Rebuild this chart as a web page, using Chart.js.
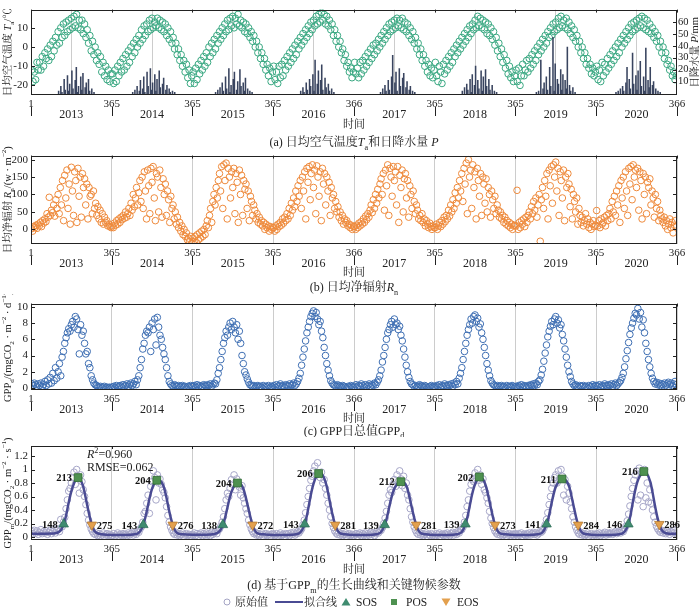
<!DOCTYPE html>
<html><head><meta charset="utf-8">
<script src="https://cdn.jsdelivr.net/npm/chart.js@4.4.1/dist/chart.umd.min.js"></script>
<style>
html,body{margin:0;padding:0;background:#fff;}
body{width:700px;height:608px;position:relative;overflow:hidden;}
canvas{position:absolute;left:0;}
</style></head>
<body>
<canvas id="ca" width="700" height="152" style="top:0px"></canvas>
<canvas id="cb" width="700" height="152" style="top:146px"></canvas>
<canvas id="cc" width="700" height="143" style="top:294px"></canvas>
<canvas id="cd" width="700" height="172" style="top:436px"></canvas>
<script>
// ---------------- DATA ----------------
const YEARS=['2013','2014','2015','2016','2017','2018','2019','2020'];
const YEAR_DAYS=[365,365,365,366,365,365,365,366];
const BOUND_LABELS=['1','365','365','365','366','365','365','365','366'];
const T_TICKS=[-20,-10,0,10];
const P_TICKS=[10,20,30,40,50,60];
const RN_TICKS=[0,50,100,150,200];
const GPPD_TICKS=[0,2,4,6,8,10];
const GPPM_TICKS=[0,0.2,0.4,0.6,0.8,1,1.2];

// daily mean air temperature (values spread evenly through each year)
const temp2013=[-12,-18,-13,-17,-8,-12,-8,-12,-5,-10,-3,-6,-1,-7,1,-5,3,-2,5,1,8,2,10,5,12,6,13,8,14,9,15,10,16,11,17,10,14,9,14,7,12,5,9,2,6,-2,3,-4,0,-7,-3,-9,-5,-13,-8,-15,-10,-17,-12,-18,-14];
const temp2014=[-14,-19,-12,-18,-10,-15,-8,-13,-6,-12,-4,-10,-2,-8,0,-5,2,-3,4,0,6,2,9,4,11,6,12,8,14,9,15,10,13,11,15,10,14,9,13,8,12,6,10,4,8,2,5,-1,2,-4,-1,-7,-4,-10,-7,-13,-9,-16,-12,-19,-15];
const temp2015=[-13,-19,-11,-17,-9,-14,-7,-12,-5,-10,-3,-8,0,-5,2,-3,4,-1,6,2,8,4,10,6,12,8,14,9,15,11,16,10,15,12,17,11,14,10,13,8,12,7,10,5,8,3,6,0,3,-3,0,-6,-3,-9,-6,-12,-9,-15,-11,-18,-13];
const temp2016=[-10,-17,-13,-19,-10,-16,-9,-15,-7,-12,-5,-10,-3,-8,-1,-6,1,-4,3,-1,5,1,7,3,9,5,11,7,13,9,14,11,16,12,17,13,18,14,17,12,16,11,14,9,12,6,9,3,6,0,3,-3,-1,-7,-4,-10,-8,-13,-11,-16,-13];
const temp2017=[-8,-14,-11,-16,-8,-14,-7,-12,-5,-10,-3,-8,-1,-6,1,-4,2,-2,4,0,6,2,8,4,10,6,12,8,13,9,14,10,15,11,14,10,15,9,13,8,12,6,10,4,8,2,5,-1,2,-4,-1,-7,-4,-10,-7,-13,-9,-15,-11,-16,-12];
const temp2018=[-8,-15,-18,-10,-13,-19,-9,-14,-7,-12,-5,-10,-3,-8,-1,-5,1,-3,3,-1,5,1,7,3,9,5,11,7,12,9,14,10,16,11,15,10,14,9,13,7,12,6,10,4,8,1,5,-2,2,-5,-1,-8,-4,-11,-7,-14,-10,-16,-13,-18,-15];
const temp2019=[-12,-18,-11,-20,-15,-9,-15,-12,-7,-13,-6,-11,-4,-9,-2,-7,0,-4,2,-2,4,0,6,2,8,5,10,6,12,8,13,9,15,10,16,11,14,10,15,9,13,7,11,5,9,3,6,0,3,-3,0,-6,-3,-9,-6,-11,-9,-14,-11,-15,-13];
const temp2020=[-10,-17,-12,-18,-8,-15,-9,-13,-6,-11,-4,-9,-2,-7,0,-5,2,-3,4,0,6,2,8,4,10,6,12,8,13,9,14,10,15,11,16,10,15,9,14,8,12,7,10,5,8,3,6,0,3,-3,0,-6,-3,-9,-7,-12,-10,-15,-13,-17,-15];

// daily precipitation (mm), from day P_FIRST_DAY every P_STEP days
const P_FIRST_DAY=90, P_STEP=5;
const prec2013=[0,0,0,0,0,0,0,2,0,6,1,0,12,3,0,15,2,8,0,19,4,0,11,22,1,6,0,14,3,17,0,5,9,0,12,2,0,4,0,1,0,0,0,0,0,0,0];
const prec2014=[0,1,0,3,0,6,0,2,11,0,4,14,1,0,18,6,0,21,3,9,0,16,2,12,0,19,5,0,8,13,0,3,7,0,4,1,0,2,0,1,0,0,0,0,0,0,0];
const prec2015=[0,0,0,1,0,3,0,5,0,9,2,0,14,4,0,21,1,7,0,12,18,0,3,10,0,20,6,0,9,2,13,0,4,0,2,0,1,0,0,0,0,0,0,0,0,0,0];
const prec2016=[0,0,0,0,0,0,0,2,0,5,1,0,9,3,0,12,6,0,16,2,28,0,8,19,0,11,24,3,0,13,5,0,8,2,0,4,0,1,0,0,0,0,0,0,0,0,0];
const prec2017=[0,0,0,0,0,0,1,0,4,0,7,2,0,11,3,0,14,32,0,9,18,2,0,21,6,0,13,17,0,5,10,0,3,6,0,2,0,1,0,0,0,0,0,0,0,0,0];
const prec2018=[0,0,0,0,0,0,0,2,0,5,0,8,3,0,12,1,16,0,7,23,0,11,4,0,19,2,14,0,20,6,0,12,3,0,7,0,2,0,1,0,0,0,0,0,0,0,0];
const prec2019=[0,1,0,2,0,28,0,4,9,0,14,3,0,22,6,0,47,2,25,0,12,8,0,20,3,16,0,11,4,39,0,7,2,0,5,0,1,0,0,0,0,0,0,0,0,0,0];
const prec2020=[1,0,2,0,4,0,6,2,0,9,22,0,12,4,0,34,8,0,15,3,19,0,27,6,0,14,2,38,0,11,5,22,0,7,10,0,4,0,2,0,1,0,0,0,0,0,0];

// daily mean net radiation (W m-2)
const rn2013=[2,-5,8,5,12,3,15,10,20,8,25,18, 30,22,45,35,92,40,55,48,70,38,85,60, 100,45,120,70,140,25,155,90,170,60,130,15, 178,110,40,165,140,20,175,95,150,35,160,120, 145,70,130,30,120,95,100,45,110,60,75,40, 65,30,55,20,45,15,35,20,25,10,15,8,5];
const rn2014=[10,5,18,12,25,15,30,20,35,28,40,32, 50,35,45,60,40,75,55,100,65,90,120,70, 105,140,80,150,60,165,110,30,170,125,45,175, 135,180,90,25,160,150,50,170,120,35,145,100, 130,40,110,85,20,95,60,70,30,50,15,35, 5,20,-5,10,-15,0,-20,-10,-30,-25,-35,-20,-40];
const rn2015=[-25,-35,-20,-38,-15,-30,-10,-25,-5,-20,0,-15, 10,25,5,40,60,20,80,100,70,120,90,140, 160,110,180,60,185,140,190,30,175,150,90,165, 120,175,45,160,135,20,170,100,155,40,140,115, 130,60,110,25,95,80,40,70,55,30,45,20, 35,15,25,10,20,0,15,5,10,-5,8,0,5];
const rn2016=[5,-5,10,0,15,8,20,12,30,18,35,25, 45,30,60,40,75,55,90,65,110,80,125,95, 140,60,150,110,165,30,175,135,180,85,160,185, 120,170,45,182,150,95,165,25,175,130,160,70, 150,110,135,40,120,90,100,60,80,50,65,35, 50,25,40,15,30,20,25,10,15,5,12,0,8];
const rn2017=[8,0,12,5,18,10,22,15,30,20,38,28, 45,35,55,70,48,85,60,100,75,115,90,130, 145,100,160,55,170,125,185,40,175,150,95,180, 140,165,70,180,20,155,120,170,50,145,160,90, 140,35,125,100,60,110,80,45,70,55,30,40, 25,45,20,30,10,25,15,5,18,8,0,10,5];
const rn2018=[5,15,0,10,20,8,25,15,35,22,40,30, 55,38,70,50,85,60,105,75,120,90,140,110, 160,80,175,130,190,45,200,150,170,60,185,120, 165,30,175,140,95,160,40,150,130,75,145,50, 120,100,35,110,85,60,95,45,70,55,35,50, 30,40,20,35,15,25,10,20,5,15,0,10,12];
const rn2019=[10,112,0,20,5,25,15,30,8,35,20,40, 50,30,65,45,80,55,90,35,70,100,-34,85, 120,60,140,95,160,30,170,125,180,75,185,150, 193,110,175,40,165,140,90,170,25,150,120,160, 130,65,115,30,100,80,50,90,15,60,40,20, 35,10,25,45,15,30,5,20,0,15,25,8,12];
const rn2020=[54,10,25,5,30,15,20,35,10,40,25,45, 60,30,80,50,95,40,110,70,125,20,140,90, 150,60,165,110,40,175,130,180,85,185,150,170, 120,175,55,165,140,30,160,100,150,45,135,120, 145,70,110,90,35,100,60,80,25,55,40,30, 20,35,10,25,0,15,30,5,20,-10,12,25,8];

// daily total GPP (GPPd)
const gppd2013=[0.5,0.3,0.6,0.4,0.2,0.5,0.3,0.6,0.2,0.4, 0.8,0.3,1.0,0.5,1.3,0.6,1.8,0.9,2.5,1.2, 2.0,3.0,1.5,3.8,4.5,5.5,6.2,6.8,7.3,7.0, 7.8,8.2,7.5,8.8,8.5,7.2,4.2,7.8,6.5,7.0, 5.5,4.2,4.5,3.0,2.5,1.5,1.0,0.6,0.4,0.3, 0.2,0.1,0.2,0.0,0.1,0.2,0.0,0.1,0.0,0.1,0.0];
const gppd2014=[0.1,0.2,0.0,0.3,0.1,0.2,0.3,0.1,0.4,0.2, 0.3,0.5,0.2,0.4,0.6,0.3,0.5,0.8,0.4,1.0, 1.5,2.5,3.5,4.8,5.5,6.5,7.0,6.8,7.5,4.5, 8.0,7.2,8.5,5.3,8.7,7.5,6.5,6.0,5.0,4.2, 3.5,2.5,1.5,0.8,0.5,0.3,0.2,0.4,0.3,0.2, 0.3,0.1,0.2,0.3,0.1,0.2,0.0,0.2,0.1,0.3,0.2];
const gppd2015=[0.2,0.3,0.1,0.4,0.2,0.3,0.1,0.2,0.4,0.3, 0.2,0.4,0.3,0.5,0.2,0.4,0.6,0.5,1.0,1.8, 2.5,3.5,4.5,5.5,6.2,7.0,6.5,7.5,8.0,7.2, 8.2,7.5,6.8,7.8,6.0,7.0,5.5,4.0,3.0,2.0, 1.6,1.1,0.7,0.4,0.3,0.2,0.3,0.1,0.2,0.3, 0.1,0.2,0.0,0.3,0.1,0.2,0.1,0.3,0.0,0.2,0.1];
const gppd2016=[0.3,0.1,0.4,0.2,0.3,0.5,0.2,0.3,0.1,0.4, 0.3,0.2,0.5,0.3,0.4,0.6,0.3,0.5,0.8,1.2, 1.8,2.8,3.8,4.8,5.8,6.8,7.5,8.2,8.8,9.2, 9.5,8.8,9.3,8.5,7.8,8.2,7.0,6.2,5.0,4.0, 3.0,2.2,1.5,0.9,0.6,0.4,0.3,0.2,0.4,0.3, 0.2,0.1,0.3,0.2,0.1,0.0,0.2,0.1,0.3,0.2,0.1];
const gppd2017=[0.2,0.4,0.1,0.3,0.2,0.5,0.3,0.1,0.4,0.2, 0.3,0.5,0.2,0.4,0.3,0.6,0.4,0.7,1.0,1.5, 2.2,3.2,4.0,5.0,6.0,6.8,7.2,7.8,8.2,7.5, 8.5,7.8,8.0,7.2,7.6,6.5,5.8,4.8,3.8,2.8, 2.0,1.3,0.8,0.5,0.4,0.2,0.3,0.1,0.2,0.4, 0.3,0.2,0.1,0.3,0.2,0.0,0.1,0.2,0.3,0.1,0.2];
const gppd2018=[0.1,0.3,0.2,0.4,0.1,0.3,0.2,0.5,0.3,0.2, 0.4,0.3,0.5,0.2,0.6,0.4,0.8,0.5,1.2,1.8, 2.5,3.5,4.5,5.5,6.5,7.2,7.8,8.5,8.0,8.8, 9.0,8.2,8.6,7.5,7.9,6.8,6.0,5.0,4.0,3.0, 2.2,1.5,0.9,0.6,0.4,0.3,0.2,0.3,0.1,0.2, 0.3,0.1,0.2,0.0,0.3,0.1,0.2,0.1,0.3,0.2,0.1];
const gppd2019=[0.2,0.1,0.3,0.2,0.4,0.1,0.3,0.2,0.1,0.3, 0.2,0.4,0.3,0.5,0.3,0.6,0.4,0.8,1.0,1.6, 2.3,3.3,4.3,5.3,6.3,7.0,7.6,8.2,7.8,8.5, 8.8,8.0,8.4,7.4,7.8,6.6,5.8,4.8,3.8,2.8, 2.0,1.4,0.8,0.5,0.3,0.4,0.2,0.1,0.3,0.2, 0.2,0.3,0.1,0.2,0.0,0.3,0.1,0.2,0.4,0.2,0.3];
const gppd2020=[0.3,0.2,0.4,0.1,0.3,0.2,0.5,0.3,0.2,0.4, 0.3,0.5,0.2,0.4,0.6,0.3,0.5,0.7,0.9,1.3, 1.8,2.6,3.6,4.6,5.6,6.6,7.4,8.0,8.6,9.2, 9.0,9.8,8.5,9.3,7.5,8.4,6.8,5.5,4.5,3.5, 2.6,1.8,1.2,0.8,0.5,0.7,0.4,0.6,0.3,0.5, 0.4,0.6,0.3,0.5,0.7,0.4,0.6,0.3,0.5,0.8,0.4];

// GPPm original values
const gppm2013=[0.08,0.05,0.10,0.06,0.09,0.04,0.07,0.11,0.05,0.08, 0.06,0.09,0.04,0.07,0.10,0.05,0.08,0.12,0.06,0.10, 0.12,0.08,0.26,0.15,0.22,0.29,0.42,0.55,0.68,0.72, 0.80,0.88,0.96,0.78,1.00,0.90,0.65,0.92,0.82,0.70, 0.60,0.48,0.35,0.25,0.18,0.12,0.08,0.05,0.04,0.06, 0.02,0.05,0.01,0.03,0.06,0.00,0.03,0.05,0.02,0.04,0.01];
const gppm2014=[0.02,0.05,0.00,0.03,0.06,0.01,0.04,0.02,0.05,0.03, 0.04,0.02,0.06,0.03,0.05,0.07,0.03,0.06,0.04,0.08, 0.07,0.12,0.15,0.22,0.35,0.38,0.50,0.62,0.35,0.75, 0.82,0.98,0.88,0.55,0.92,0.80,0.86,0.78,0.70,0.66, 0.58,0.45,0.32,0.22,0.15,0.10,0.06,0.04,0.07,0.03, 0.05,0.02,0.04,0.06,0.01,0.03,0.05,0.02,0.04,0.01,0.03];
const gppm2015=[0.03,0.06,0.02,0.05,0.01,0.04,0.06,0.02,0.05,0.03, 0.06,0.03,0.05,0.02,0.07,0.04,0.06,0.08,0.05,0.10, 0.12,0.16,0.22,0.30,0.42,0.55,0.65,0.60,0.72,0.85, 0.78,0.92,0.70,0.86,0.80,0.74,0.62,0.76,0.58,0.50, 0.42,0.35,0.25,0.18,0.12,0.08,0.05,0.07,0.03,0.05, 0.02,0.04,0.06,0.01,0.03,0.05,0.02,0.04,0.00,0.03,0.05];
const gppm2016=[0.04,0.02,0.05,0.01,0.03,0.06,0.02,0.04,0.00,0.05, 0.03,0.05,0.02,0.06,0.04,0.07,0.03,0.05,0.08,0.06, 0.09,0.12,0.18,0.25,0.36,0.48,0.60,0.72,0.84,0.90, 0.98,1.05,0.92,1.10,0.95,0.88,0.96,0.80,0.85,0.72, 0.62,0.50,0.40,0.30,0.20,0.14,0.09,0.06,0.04,0.07, 0.03,0.05,0.02,0.04,0.06,0.01,0.03,0.05,0.02,0.04,0.01];
const gppm2017=[0.03,0.05,0.01,0.04,0.06,0.02,0.05,0.03,0.06,0.02, 0.05,0.03,0.07,0.04,0.06,0.02,0.05,0.08,0.06,0.09, 0.10,0.14,0.20,0.28,0.38,0.50,0.62,0.70,0.66,0.78, 0.85,0.75,0.92,0.82,0.98,0.86,0.76,0.90,0.72,0.80, 0.62,0.55,0.42,0.30,0.22,0.15,0.10,0.06,0.04,0.07, 0.03,0.05,0.02,0.04,0.06,0.01,0.04,0.02,0.05,0.03,0.01];
const gppm2018=[0.02,0.05,0.03,0.06,0.01,0.04,0.02,0.05,0.03,0.06, 0.04,0.02,0.05,0.07,0.03,0.06,0.04,0.08,0.06,0.10, 0.11,0.15,0.22,0.32,0.45,0.55,0.68,0.78,0.85,0.82, 0.95,0.88,1.00,0.84,0.92,0.78,0.86,0.70,0.66,0.58, 0.50,0.38,0.28,0.20,0.14,0.09,0.06,0.04,0.07,0.03, 0.05,0.02,0.04,0.06,0.01,0.03,0.05,0.02,0.04,0.03,0.05];
const gppm2019=[0.04,0.02,0.05,0.03,0.06,0.01,0.04,0.02,0.05,0.03, 0.06,0.03,0.05,0.07,0.04,0.06,0.03,0.05,0.08,0.07, 0.09,0.13,0.18,0.26,0.36,0.48,0.60,0.72,0.80,0.88, 0.92,0.80,0.98,0.86,1.00,0.90,0.62,0.85,0.55,0.75, 0.65,0.52,0.42,0.30,0.22,0.15,0.10,0.06,0.04,0.07, 0.03,0.05,0.02,0.04,0.06,0.01,0.03,0.05,0.02,0.04,0.03];
const gppm2020=[0.05,0.03,0.06,0.02,0.05,0.04,0.07,0.03,0.06,0.04, 0.05,0.07,0.04,0.06,0.08,0.05,0.07,0.09,0.06,0.10, 0.08,0.12,0.16,0.24,0.34,0.46,0.60,0.72,0.84,0.92, 0.98,0.55,1.02,0.62,0.96,0.45,1.00,0.58,0.80,0.52, 0.70,0.50,0.40,0.30,0.22,0.16,0.12,0.09,0.07,0.10, 0.06,0.08,0.05,0.09,0.07,0.04,0.08,0.06,0.10,0.07,0.05];

// fitted growth curve: [day of year, GPPm]
const fit2013=[[1,0.05],[60,0.05],[110,0.055],[128,0.08],[138,0.115],[148,0.19],[158,0.31],[168,0.47],[178,0.62],[188,0.74],[203,0.85],[213,0.88],[225,0.84],[235,0.76],[245,0.62],[255,0.46],[265,0.31],[275,0.18],[285,0.10],[295,0.065],[320,0.04],[365,0.03]];
const fit2014=[[1,0.03],[60,0.03],[105,0.04],[123,0.065],[133,0.11],[143,0.18],[153,0.30],[163,0.45],[173,0.60],[183,0.72],[196,0.81],[204,0.84],[215,0.84],[226,0.81],[236,0.74],[246,0.61],[256,0.45],[266,0.30],[276,0.18],[286,0.10],[296,0.06],[320,0.04],[365,0.035]];
const fit2015=[[1,0.035],[60,0.035],[100,0.045],[118,0.07],[128,0.11],[138,0.18],[148,0.29],[158,0.43],[168,0.57],[178,0.68],[192,0.77],[204,0.80],[212,0.80],[222,0.77],[232,0.70],[242,0.58],[252,0.44],[262,0.30],[272,0.18],[282,0.10],[292,0.06],[320,0.04],[365,0.03]];
const fit2016=[[1,0.03],[60,0.03],[105,0.04],[123,0.07],[133,0.115],[143,0.19],[153,0.32],[163,0.49],[173,0.66],[183,0.79],[196,0.90],[206,0.94],[216,0.94],[231,0.87],[241,0.77],[251,0.62],[261,0.45],[271,0.30],[281,0.18],[291,0.10],[301,0.06],[325,0.04],[366,0.03]];
const fit2017=[[1,0.03],[60,0.03],[100,0.04],[119,0.065],[129,0.11],[139,0.18],[149,0.29],[159,0.44],[169,0.58],[179,0.69],[194,0.78],[212,0.82],[226,0.81],[241,0.72],[251,0.59],[261,0.44],[271,0.30],[281,0.18],[291,0.10],[301,0.06],[325,0.04],[365,0.03]];
const fit2018=[[1,0.03],[60,0.03],[100,0.04],[119,0.065],[129,0.11],[139,0.19],[149,0.31],[159,0.47],[169,0.63],[179,0.75],[192,0.85],[202,0.89],[213,0.88],[223,0.83],[233,0.74],[243,0.60],[253,0.45],[263,0.30],[273,0.18],[283,0.10],[293,0.06],[320,0.04],[365,0.03]];
const fit2019=[[1,0.03],[60,0.03],[100,0.04],[121,0.065],[131,0.11],[141,0.19],[151,0.30],[161,0.46],[171,0.61],[181,0.73],[196,0.82],[211,0.86],[224,0.85],[244,0.74],[254,0.60],[264,0.45],[274,0.30],[284,0.18],[294,0.10],[304,0.06],[325,0.04],[365,0.03]];
const fit2020=[[1,0.03],[60,0.03],[105,0.04],[126,0.07],[136,0.115],[146,0.19],[156,0.33],[166,0.51],[176,0.68],[186,0.81],[201,0.92],[216,0.97],[228,0.95],[246,0.81],[256,0.65],[266,0.47],[276,0.31],[286,0.19],[296,0.11],[306,0.07],[330,0.05],[366,0.05]];

// key phenological parameters
const SOS_DAY=[148,143,138,143,139,139,141,146];
const SOS_VAL=[0.19,0.18,0.18,0.19,0.18,0.19,0.19,0.19];
const POS_DAY=[213,204,204,206,212,202,211,216];
const POS_VAL=[0.88,0.84,0.80,0.94,0.82,0.89,0.86,0.97];
const EOS_DAY=[275,276,272,281,281,273,284,286];
const EOS_VAL=[0.18,0.18,0.18,0.18,0.18,0.18,0.18,0.19];
const R2_TEXT='0.960', RMSE_TEXT='0.062';

// ---------------- helpers ----------------
const FONT='"Liberation Serif","Noto Serif CJK SC","Noto Sans CJK SC",serif';
Chart.defaults.font.family=FONT;
const yearStart=[];YEAR_DAYS.reduce((a,d)=>{yearStart.push(a);return a+d;},0);
const TOTAL_DAYS=YEAR_DAYS.reduce((a,b)=>a+b,0);
const BOUNDS=[...yearStart,TOTAL_DAYS];

function spread(arrs){const pts=[];arrs.forEach((a,y)=>{const n=a.length,L=YEAR_DAYS[y];a.forEach((v,i)=>pts.push({x:yearStart[y]+(i+0.5)*L/n,y:v}));});return pts;}
function precipPts(arrs){const pts=[];arrs.forEach((a,y)=>a.forEach((v,i)=>{if(v>0)pts.push({x:yearStart[y]+P_FIRST_DAY+P_STEP*i,y:v});}));return pts;}
function fitPts(arrs){const pts=[];arrs.forEach((a,y)=>a.forEach(p=>pts.push({x:yearStart[y]+p[0],y:p[1]})));return pts;}
function markPts(days,vals){return days.map((d,i)=>({x:yearStart[i]+d,y:vals[i]}));}

function fontOf(s,fs){const small=s[1]==='sub'||s[1]==='sup';const sz=small?fs*0.68:fs;return `${s[1]==='i'?'italic ':''}${s[2]?'bold ':''}${sz}px ${FONT}`;}
function rich(ctx,segs,x,y,fs,align){
  let w=0;segs.forEach(s=>{ctx.font=fontOf(s,fs);w+=ctx.measureText(s[0]).width;});
  let cx=align==='center'?x-w/2:align==='right'?x-w:x;
  ctx.textAlign='left';ctx.textBaseline='alphabetic';
  const base=y+fs*0.36;
  segs.forEach(s=>{ctx.font=fontOf(s,fs);
    const dy=s[1]==='sub'?fs*0.28:s[1]==='sup'?-fs*0.42:0;
    ctx.fillText(s[0],cx,base+dy);cx+=ctx.measureText(s[0]).width;});
}

const decor={id:'decor',
  afterDraw(chart){
    const o=chart.options.plugins.decor;if(!o)return;
    const ctx=chart.ctx,ca=chart.chartArea,xs=chart.scales.x,ys=chart.scales.y;
    ctx.save();
    ctx.strokeStyle='#222';ctx.lineWidth=1;
    ctx.strokeRect(Math.round(ca.left)+0.5,Math.round(ca.top)+0.5,Math.round(ca.right-ca.left)-1,Math.round(ca.bottom-ca.top)-1);
    ctx.beginPath();
    o.leftTicks.forEach(v=>{const py=Math.round(ys.getPixelForValue(v))+0.5;ctx.moveTo(ca.left,py);ctx.lineTo(ca.left+4,py);
      if(!o.rightAxis){ctx.moveTo(ca.right-4,py);ctx.lineTo(ca.right,py);}});
    if(o.rightAxis){const rs=chart.scales[o.rightAxis];o.rightTicks.forEach(v=>{const py=Math.round(rs.getPixelForValue(v))+0.5;ctx.moveTo(ca.right-4,py);ctx.lineTo(ca.right,py);});}
    BOUNDS.forEach(b=>{const px=Math.round(xs.getPixelForValue(b))+0.5;ctx.moveTo(px,ca.top);ctx.lineTo(px,ca.top+3);
      ctx.moveTo(px,ca.bottom+12);ctx.lineTo(px,ca.bottom+21);});
    ctx.stroke();
    ctx.fillStyle='#222';
    YEARS.forEach((yr,i)=>{const px=(xs.getPixelForValue(BOUNDS[i])+xs.getPixelForValue(BOUNDS[i+1]))/2;rich(ctx,[[yr]],px,ca.bottom+18.5,12,'center');});
    const mid=(ca.left+ca.right)/2;
    rich(ctx,[['时间']],mid,ca.bottom+o.timeDy,11,'center');
    rich(ctx,o.caption,mid,ca.bottom+o.capDy,12,'center');
    ctx.save();ctx.translate(o.yTitleX,(ca.top+ca.bottom)/2);ctx.rotate(-Math.PI/2);rich(ctx,o.yTitle,0,0,10.5,'center');ctx.restore();
    if(o.rTitle){ctx.save();ctx.translate(o.rTitleX,(ca.top+ca.bottom)/2);ctx.rotate(-Math.PI/2);rich(ctx,o.rTitle,0,0,10.5,'center');ctx.restore();}
    ctx.restore();
  }};

const phen={id:'phen',
  afterDraw(chart){
    if(!chart.options.plugins.phen)return;
    const ctx=chart.ctx,ca=chart.chartArea,xs=chart.scales.x,ys=chart.scales.y;
    ctx.save();ctx.fillStyle='#111';
    for(let i=0;i<YEARS.length;i++){
      let px=xs.getPixelForValue(yearStart[i]+SOS_DAY[i]),py=ys.getPixelForValue(SOS_VAL[i]);
      rich(ctx,[[String(SOS_DAY[i]),'',1]],px-6,py,10.5,'right');
      px=xs.getPixelForValue(yearStart[i]+POS_DAY[i]);py=ys.getPixelForValue(POS_VAL[i]);
      rich(ctx,[[String(POS_DAY[i]),'',1]],px-6,py,10.5,'right');
      px=xs.getPixelForValue(yearStart[i]+EOS_DAY[i]);py=ys.getPixelForValue(EOS_VAL[i]);
      rich(ctx,[[String(EOS_DAY[i]),'',1]],px+5,py,10.5,'left');
    }
    ctx.fillStyle='#222';
    rich(ctx,[['R','i'],['2','sup'],['='+R2_TEXT]],ca.left+56,ca.top+8,12,'left');
    rich(ctx,[['RMSE='+RMSE_TEXT]],ca.left+56,ca.top+21,12,'left');
    // legend
    const ly=ca.bottom+62;
    ctx.lineWidth=1;ctx.strokeStyle='#a4a4c4';ctx.beginPath();ctx.arc(227,ly,3,0,Math.PI*2);ctx.stroke();
    ctx.fillStyle='#222';rich(ctx,[['原始值']],235,ly,11,'left');
    ctx.strokeStyle='#4a4b93';ctx.lineWidth=2;ctx.beginPath();ctx.moveTo(275,ly);ctx.lineTo(303,ly);ctx.stroke();
    rich(ctx,[['拟合线']],304,ly,11,'left');
    ctx.fillStyle='#3f8c70';ctx.beginPath();ctx.moveTo(346,ly-4);ctx.lineTo(350.5,ly+3.5);ctx.lineTo(341.5,ly+3.5);ctx.closePath();ctx.fill();
    ctx.fillStyle='#222';rich(ctx,[['SOS']],356,ly,11.5,'left');
    ctx.fillStyle='#4e9150';ctx.fillRect(391,ly-3,6,6);
    ctx.fillStyle='#222';rich(ctx,[['POS']],406,ly,11.5,'left');
    ctx.fillStyle='#e3a04e';ctx.beginPath();ctx.moveTo(446,ly+4);ctx.lineTo(450.5,ly-3.5);ctx.lineTo(441.5,ly-3.5);ctx.closePath();ctx.fill();
    ctx.fillStyle='#222';rich(ctx,[['EOS']],457,ly,11.5,'left');
    ctx.restore();
  }};

function xScale(h){return {type:'linear',min:0,max:TOTAL_DAYS,offset:false,
  afterBuildTicks:s=>{s.ticks=BOUNDS.map(v=>({value:v}));},
  afterFit:s=>{s.height=h;},
  ticks:{autoSkip:false,maxRotation:0,minRotation:0,padding:3,color:'#222',font:{size:11,family:FONT},callback:(v,i)=>BOUND_LABELS[i]},
  grid:{color:'#cccccc',lineWidth:1,drawTicks:false},border:{display:false}};}
function yScale(min,max,ticks,pos,w){return {type:'linear',position:pos,min:min,max:max,
  afterBuildTicks:s=>{s.ticks=ticks.map(v=>({value:v}));},
  afterFit:s=>{s.width=w;},
  ticks:{autoSkip:false,padding:pos==='right'?1:3,color:'#222',font:{size:pos==='right'?10.5:11,family:FONT},callback:v=>String(v)},
  grid:{display:false,drawTicks:false},border:{display:false}};}

function make(id,canvasTop,canvasH,areaTop,areaBottom,datasets,scales,padRight,decorOpts,extra){
  const xh=canvasTop+canvasH-areaBottom;
  scales.x=xScale(xh);
  return new Chart(document.getElementById(id),{type:'scatter',data:{datasets},
    options:{responsive:false,animation:false,events:[],
      layout:{padding:{top:areaTop-canvasTop,right:padRight,left:0,bottom:0}},
      scales,
      plugins:{legend:{display:false},tooltip:{enabled:false},decor:decorOpts,phen:extra||false}},
    plugins:[decor,phen]});
}
const scatterStyle=c=>({type:'scatter',pointRadius:3.3,pointBorderWidth:1,borderColor:c,backgroundColor:'rgba(255,255,255,0)',pointStyle:'circle'});

// (a)
make('ca',0,152,1,95,[
  Object.assign(scatterStyle('#3aa882'),{data:spread([temp2013,temp2014,temp2015,temp2016,temp2017,temp2018,temp2019,temp2020]),yAxisID:'y',order:2}),
  {type:'bar',data:precipPts([prec2013,prec2014,prec2015,prec2016,prec2017,prec2018,prec2019,prec2020]),yAxisID:'y2',backgroundColor:'#39445f',barThickness:0.9,order:1}
],{y:yScale(-25,19.5,T_TICKS,'left',31),y2:yScale(-1.2,70.3,P_TICKS,'right',23)},0,
 {yTitle:[['日均空气温度 '],['T','i'],['a','sub'],['/℃']],yTitleX:7,rTitle:[['日降水量 '],['P','i'],['/mm']],rTitleX:694,
  caption:[['(a) 日均空气温度'],['T','i'],['a','sub'],['和日降水量 '],['P','i']],capDy:47,timeDy:29.5,leftTicks:T_TICKS,rightAxis:'y2',rightTicks:P_TICKS});

// (b)
make('cb',146,152,149,244,[
  Object.assign(scatterStyle('#ee8a3c'),{data:spread([rn2013,rn2014,rn2015,rn2016,rn2017,rn2018,rn2019,rn2020])})
],{y:yScale(-41.9,211.5,RN_TICKS,'left',31)},23,
 {yTitle:[['日均净辐射 '],['R','i'],['n','sub'],['/(w · m'],['−2','sup'],[')']],yTitleX:7,
  caption:[['(b) 日均净辐射'],['R','i'],['n','sub']],capDy:43,timeDy:28.5,leftTicks:RN_TICKS});

// (c)
make('cc',294,143,298,390,[
  Object.assign(scatterStyle('#3f6fb3'),{data:spread([gppd2013,gppd2014,gppd2015,gppd2016,gppd2017,gppd2018,gppd2019,gppd2020])})
],{y:yScale(-0.25,10.4,GPPD_TICKS,'left',31)},23,
 {yTitle:[['GPP'],['d','sub'],['/(mgCO'],['2','sub'],[' · m'],['−2','sup'],[' · d'],['−1','sup'],[')']],yTitleX:7,
  caption:[['(c) GPP日总值GPP'],['d','sub']],capDy:40.5,timeDy:28.5,leftTicks:GPPD_TICKS});

// (d)
make('cd',436,172,446,540,[
  Object.assign(scatterStyle('#a6a6c8'),{data:spread([gppm2013,gppm2014,gppm2015,gppm2016,gppm2017,gppm2018,gppm2019,gppm2020]),order:4}),
  {type:'line',data:fitPts([fit2013,fit2014,fit2015,fit2016,fit2017,fit2018,fit2019,fit2020]),borderColor:'#4a4b93',borderWidth:2.5,pointRadius:0,cubicInterpolationMode:'monotone',fill:false,order:3},
  {type:'scatter',data:markPts(SOS_DAY,SOS_VAL),pointStyle:'triangle',pointRadius:5.5,backgroundColor:'#3f8c70',borderColor:'#2e6d57',pointBorderWidth:0.8,order:1},
  {type:'scatter',data:markPts(POS_DAY,POS_VAL),pointStyle:'rect',pointRadius:5.5,backgroundColor:'#4e9150',borderColor:'#2f6a32',pointBorderWidth:0.8,order:1},
  {type:'scatter',data:markPts(EOS_DAY,EOS_VAL),pointStyle:'triangle',rotation:180,pointRadius:5.5,backgroundColor:'#e3a04e',borderColor:'#b57a30',pointBorderWidth:0.8,order:1}
],{y:yScale(-0.044,1.348,GPPM_TICKS,'left',31)},23,
 {yTitle:[['GPP'],['m','sub'],['/(mgCO'],['2','sub'],[' · m'],['−2','sup'],[' · s'],['−1','sup'],[')']],yTitleX:7,
  caption:[['(d) 基于GPP'],['m','sub'],['的生长曲线和关键物候参数']],capDy:45,timeDy:29,leftTicks:GPPM_TICKS},true);
</script>
</body></html>
